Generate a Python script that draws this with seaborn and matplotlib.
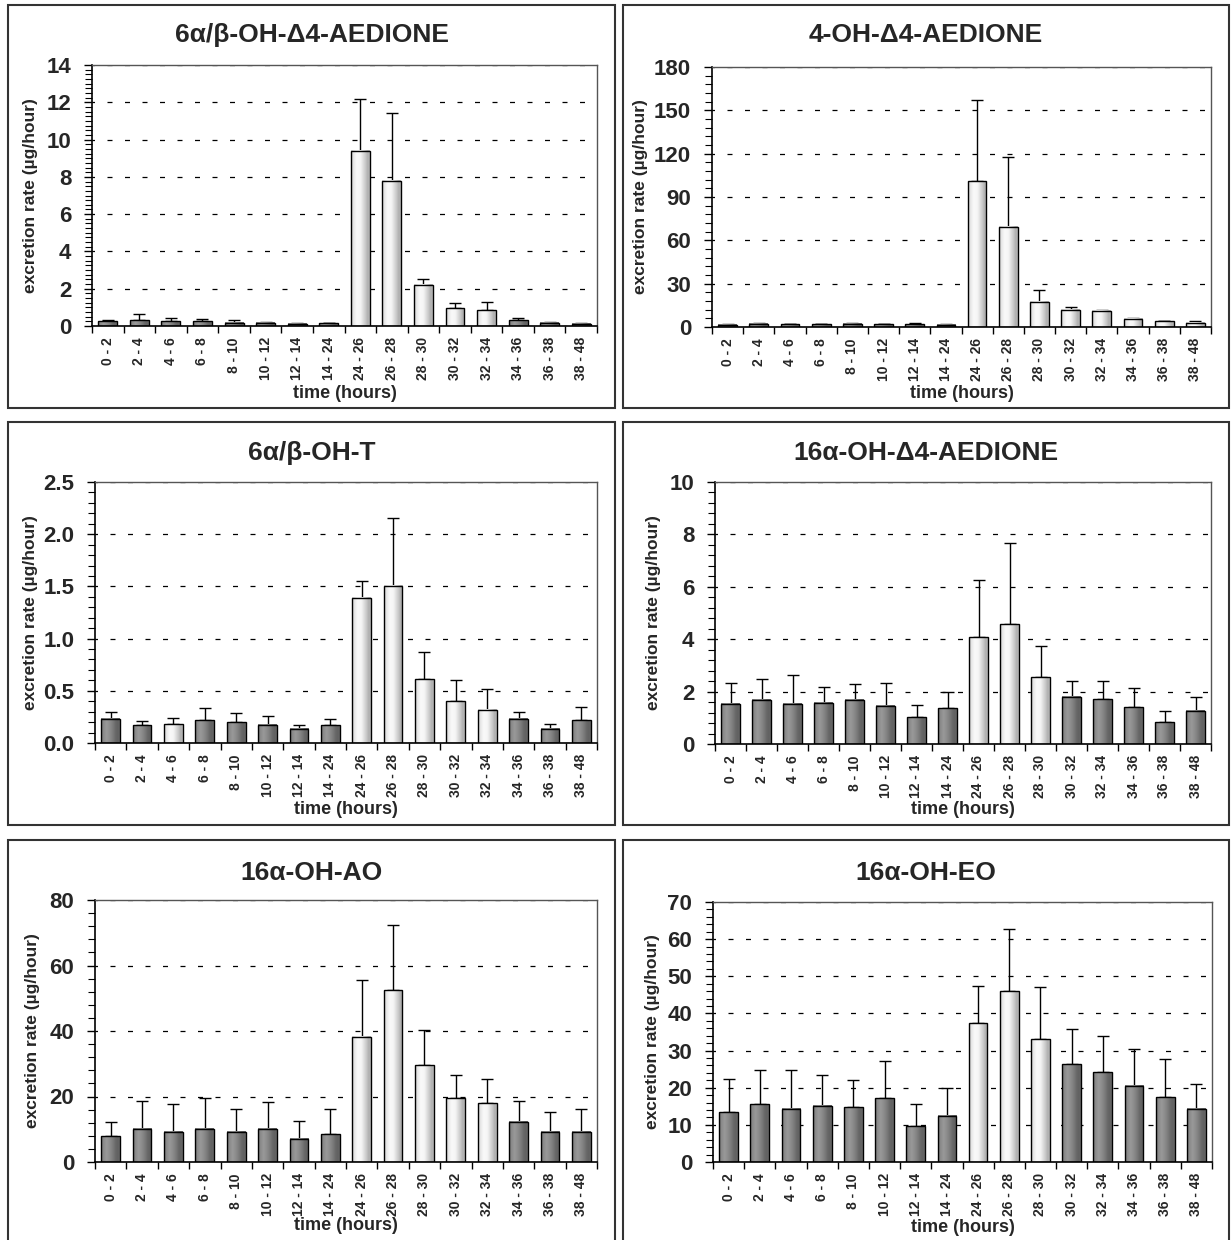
import numpy as np
import pandas as pd
import matplotlib
matplotlib.use("Agg")
import matplotlib.pyplot as plt
import seaborn as sns
from matplotlib.patches import Rectangle
from matplotlib.ticker import MultipleLocator, FixedLocator, FormatStrFormatter

# ---------------------------------------------------------------- data
intervals = ["0 - 2", "2 - 4", "4 - 6", "6 - 8", "8 - 10", "10 - 12", "12 - 14",
             "14 - 24", "24 - 26", "26 - 28", "28 - 30", "30 - 32", "32 - 34",
             "34 - 36", "36 - 38", "38 - 48"]

titles = ["6\u03b1/\u03b2-OH-\u03944-AEDIONE", "4-OH-\u03944-AEDIONE",
          "6\u03b1/\u03b2-OH-T", "16\u03b1-OH-\u03944-AEDIONE",
          "16\u03b1-OH-AO", "16\u03b1-OH-EO"]

# mean excretion rates (ug/hour)
mean_6ab_aedione = [0.25, 0.30, 0.25, 0.25, 0.18, 0.17, 0.12, 0.15,
                    9.4, 7.8, 2.2, 0.95, 0.85, 0.32, 0.18, 0.12]
mean_4oh_aedione = [1.5, 2.2, 1.8, 1.8, 2.3, 1.8, 2.0, 1.5,
                    101.0, 69.5, 17.5, 12.0, 11.3, 5.8, 3.9, 2.8]
mean_6ab_t = [0.23, 0.17, 0.18, 0.22, 0.20, 0.175, 0.135, 0.17,
              1.39, 1.505, 0.61, 0.40, 0.32, 0.23, 0.135, 0.22]
mean_16a_aedione = [1.54, 1.68, 1.54, 1.58, 1.68, 1.46, 1.02, 1.36,
                    4.07, 4.57, 2.54, 1.81, 1.70, 1.41, 0.83, 1.27]
mean_16a_ao = [7.8, 10.2, 9.2, 10.2, 9.2, 10.2, 7.1, 8.5,
               38.3, 52.4, 29.6, 19.4, 17.9, 12.3, 9.2, 9.2]
mean_16a_eo = [13.4, 15.5, 14.3, 15.2, 14.7, 17.1, 9.6, 12.5,
               37.3, 46.0, 33.1, 26.3, 24.1, 20.5, 17.4, 14.3]

# standard deviations (upper error bars)
sd_6ab_aedione = [0.05, 0.33, 0.20, 0.12, 0.12, 0.06, 0.05, 0.03,
                  2.8, 3.6, 0.30, 0.30, 0.45, 0.13, 0.05, 0.05]
sd_4oh_aedione = [0.3, 0.3, 0.4, 0.5, 0.2, 0.4, 0.5, 0.3,
                  56.5, 48.5, 7.8, 1.6, 0.7, 0.6, 0.1, 1.1]
sd_6ab_t = [0.07, 0.04, 0.06, 0.12, 0.09, 0.085, 0.035, 0.06,
            0.166, 0.651, 0.264, 0.206, 0.197, 0.07, 0.045, 0.124]
sd_16a_aedione = [0.78, 0.82, 1.09, 0.61, 0.60, 0.86, 0.47, 0.61,
                  2.19, 3.10, 1.21, 0.61, 0.72, 0.74, 0.43, 0.52]
sd_16a_ao = [4.4, 8.4, 8.6, 9.2, 7.0, 8.1, 5.5, 7.7,
             17.2, 20.0, 10.8, 7.3, 7.5, 6.3, 6.0, 7.0]
sd_16a_eo = [9.0, 9.2, 10.4, 8.1, 7.3, 10.0, 6.1, 7.4,
             10.2, 16.6, 14.1, 9.6, 9.7, 9.8, 10.2, 6.8]

# 1 = elevated interval (light bar), 0 = baseline interval (dark bar)
elev_6ab_aedione = [0, 0, 0, 0, 0, 0, 0, 0, 1, 1, 1, 1, 1, 0, 0, 0]
elev_4oh_aedione = [0, 0, 0, 0, 0, 0, 0, 0, 1, 1, 1, 1, 1, 1, 1, 1]
elev_6ab_t = [0, 0, 1, 0, 0, 0, 0, 0, 1, 1, 1, 1, 1, 0, 0, 0]
elev_16a_aedione = [0, 0, 0, 0, 0, 0, 0, 0, 1, 1, 1, 0, 0, 0, 0, 0]
elev_16a_ao = [0, 0, 0, 0, 0, 0, 0, 0, 1, 1, 1, 1, 1, 0, 0, 0]
elev_16a_eo = [0, 0, 0, 0, 0, 0, 0, 0, 1, 1, 1, 0, 0, 0, 0, 0]

# y-axis: max, major step, minor step
y_max = [14, 180, 2.5, 10, 80, 70]
y_major = [2, 30, 0.5, 2, 20, 10]
y_minor = [0.25, 6, 0.1, 0.4, 4, 2]

means = [mean_6ab_aedione, mean_4oh_aedione, mean_6ab_t,
         mean_16a_aedione, mean_16a_ao, mean_16a_eo]
sds = [sd_6ab_aedione, sd_4oh_aedione, sd_6ab_t,
       sd_16a_aedione, sd_16a_ao, sd_16a_eo]
elevs = [elev_6ab_aedione, elev_4oh_aedione, elev_6ab_t,
         elev_16a_aedione, elev_16a_ao, elev_16a_eo]

# ---------------------------------------------------------------- layout (pixels)
W, H = 1232, 1240
axes_px = [(92, 597, 65, 326), (712, 1211, 67, 327),
           (95, 597, 482, 743), (715, 1211, 482, 744),
           (95, 597, 900, 1162), (713, 1212, 902, 1162)]
box_px = [(8, 615, 5, 408), (623, 1229, 5, 408),
          (8, 615, 422, 825), (623, 1229, 422, 825),
          (8, 615, 840, 1243), (623, 1229, 840, 1243)]
title_y = [35, 35, 453, 453, 873, 873]
ylabel_x = [31, 641, 31, 653, 33, 653]
xlabel_y = [393, 393, 809, 809, 1226, 1228]

sns.set_style("white")
plt.rcParams["font.family"] = ["Liberation Sans", "DejaVu Sans"]
plt.rcParams["font.weight"] = "bold"
plt.rcParams["axes.labelweight"] = "bold"

fig = plt.figure(figsize=(W / 100, H / 100), dpi=100)

# horizontal shading profiles giving the bars a rounded look
dark_stops = [0, 0.12, 0.3, 0.55, 0.8, 0.92, 1]
dark_vals = [0.46, 0.54, 0.60, 0.52, 0.40, 0.38, 0.44]
light_stops = [0, 0.12, 0.3, 0.5, 0.75, 0.9, 1]
light_vals = [0.80, 0.90, 0.98, 0.96, 0.80, 0.68, 0.75]


def shade(stops, vals, n=64):
    g = np.interp(np.linspace(0, 1, n), stops, vals)
    return np.stack([g, g, g], axis=-1)[np.newaxis, :, :]


dark_img = shade(dark_stops, dark_vals)
light_img = shade(light_stops, light_vals)

for k in range(6):
    l, r, t, b = axes_px[k]
    ax = fig.add_axes([l / W, 1 - b / H, (r - l) / W, (b - t) / H])
    df = pd.DataFrame({"interval": intervals, "rate": means[k]})
    sns.barplot(data=df, x="interval", y="rate", order=intervals, color="0.5",
                width=0.6, errorbar=None, saturation=1, ax=ax,
                edgecolor="black", linewidth=1.0)

    n = len(intervals)
    for i, p in enumerate(ax.patches[:n]):
        x0, w, h = p.get_x(), p.get_width(), p.get_height()
        img = light_img if elevs[k][i] else dark_img
        ax.imshow(img, extent=(x0, x0 + w, 0, h), aspect="auto",
                  interpolation="bilinear", zorder=2.5)
        p.set_facecolor("none")
        p.set_zorder(3)

    ax.errorbar(np.arange(n), means[k], yerr=[np.zeros(n), sds[k]], fmt="none",
                ecolor="black", elinewidth=1.0, capsize=4, capthick=1.0, zorder=2)

    ax.set_xlim(-0.5, n - 0.5)
    ax.set_ylim(0, y_max[k])
    ax.yaxis.set_major_locator(MultipleLocator(y_major[k]))
    ax.yaxis.set_minor_locator(MultipleLocator(y_minor[k]))
    if k == 2:
        ax.yaxis.set_major_formatter(FormatStrFormatter("%.1f"))
    ax.xaxis.set_minor_locator(FixedLocator(np.arange(-0.5, n, 1.0)))

    ax.set_axisbelow(True)
    ax.yaxis.grid(True, which="major", linestyle=(2, (4, 10)), color="black",
                  linewidth=0.9)
    ax.xaxis.grid(False)

    ax.tick_params(axis="y", which="major", direction="out", length=6, width=1,
                   labelsize=16, pad=9, left=True, color="black")
    ax.tick_params(axis="y", which="minor", direction="out", length=5, width=0.8,
                   left=True, color="black")
    ax.tick_params(axis="x", which="major", length=0, pad=8, labelsize=10,
                   labelrotation=90)
    ax.tick_params(axis="x", which="minor", direction="out", length=5, width=1,
                   bottom=True, color="black")
    for lbl in ax.get_xticklabels() + ax.get_yticklabels():
        lbl.set_fontweight("bold")

    for side in ("left", "bottom"):
        ax.spines[side].set_color("black")
        ax.spines[side].set_linewidth(1.2)
    for side in ("top", "right"):
        ax.spines[side].set_color("#555555")
        ax.spines[side].set_linewidth(1.0)

    ax.set_xlabel("time (hours)", fontsize=13, fontweight="bold")
    ax.xaxis.label.set_verticalalignment("center")
    ax.xaxis.set_label_coords(0.5, -(xlabel_y[k] - b) / (b - t))
    ax.set_ylabel("excretion rate (\u00b5g/hour)", fontsize=12.5, fontweight="bold")
    ax.yaxis.label.set_verticalalignment("center")
    ax.yaxis.set_label_coords((ylabel_x[k] - l) / (r - l), 0.5)

    bl, br, bt, bb = box_px[k]
    fig.add_artist(Rectangle((bl / W, 1 - bb / H), (br - bl) / W, (bb - bt) / H,
                             transform=fig.transFigure, fill=False,
                             edgecolor="#333333", linewidth=1.5))
    fig.text((bl + br) / 2 / W, 1 - title_y[k] / H, titles[k], ha="center",
             va="center", fontsize=19, fontweight="bold")

fig.savefig("out.png", dpi=100)
